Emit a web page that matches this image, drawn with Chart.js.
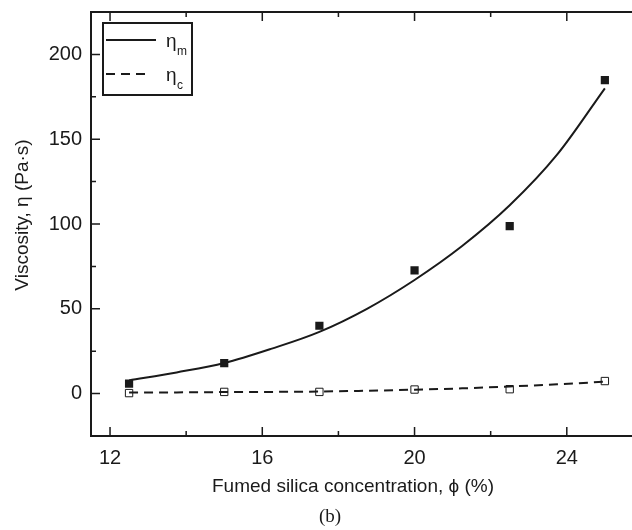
<!DOCTYPE html>
<html lang="en">
<head>
<meta charset="UTF-8" />
<title>Viscosity vs fumed silica</title>
<style>
  html, body { margin: 0; padding: 0; background: #fff; }
  #wrap { width: 632px; height: 530px; }
</style>
</head>
<body>
<div id="wrap"><canvas id="myChart"></canvas></div>
<script src="https://cdn.jsdelivr.net/npm/chart.js"></script>
<script>
// measured points
const conc = [12.5, 15, 17.5, 20, 22.5, 25];
const etaM = [5.9, 18, 40, 72.6, 98.7, 184.8];
const etaC = [0.3, 1.0, 1.0, 2.4, 2.6, 7.4];
// fitted curves
const fitX = [12.5, 13.75, 15, 16.25, 17.5, 18.75, 20, 21.25, 22.5, 23.75, 25];
const fitM = [7.8, 12.5, 18, 26.5, 36.4, 50, 67, 87, 111, 141, 180];
const fitC = [0.6, 0.7, 0.9, 1.0, 1.2, 1.7, 2.3, 3.1, 4.2, 5.5, 7.0];
// axes
const xTicks = [12, 16, 20, 24];
const xMinor = [14, 18, 22, 26];
const yTicks = [0, 50, 100, 150, 200];
const yMinor = [-25, 25, 75, 125, 175, 225];

const sans = '"Liberation Sans", Arial, sans-serif';
const ink = '#1a1a1a';

const pts = (xs, ys) => xs.map((x, i) => ({ x: x, y: ys[i] }));

const frame = {
  id: 'frame',
  afterDraw(chart) {
    const { ctx, chartArea: a, scales } = chart;
    const x = scales.x, y = scales.y;
    const edge = chart.width + 2;
    ctx.save();
    ctx.strokeStyle = ink;
    ctx.lineWidth = 2;
    ctx.beginPath();
    ctx.moveTo(edge, a.top);
    ctx.lineTo(a.left, a.top);
    ctx.lineTo(a.left, a.bottom);
    ctx.lineTo(edge, a.bottom);
    ctx.stroke();

    // inward tick marks
    ctx.lineWidth = 1.5;
    ctx.beginPath();
    const xt = (v, len) => {
      const px = x.getPixelForValue(v);
      ctx.moveTo(px, a.bottom); ctx.lineTo(px, a.bottom - len);
      ctx.moveTo(px, a.top); ctx.lineTo(px, a.top + len);
    };
    const yt = (v, len) => {
      const py = y.getPixelForValue(v);
      ctx.moveTo(a.left, py); ctx.lineTo(a.left + len, py);
    };
    xTicks.forEach(v => xt(v, 9));
    xMinor.forEach(v => xt(v, 5));
    yTicks.forEach(v => yt(v, 9));
    yMinor.forEach(v => yt(v, 5));
    ctx.stroke();

    // axis titles
    ctx.fillStyle = ink;
    ctx.font = '19px ' + sans;
    ctx.textAlign = 'center';
    ctx.textBaseline = 'middle';
    ctx.fillText('Fumed silica concentration, \u03d5 (%)', 353, 487);
    ctx.save();
    ctx.translate(23, 215);
    ctx.rotate(-Math.PI / 2);
    ctx.fillText('Viscosity, \u03b7 (Pa\u00b7s)', 0, 0);
    ctx.restore();
    ctx.font = '19px "Liberation Serif", "Times New Roman", serif';
    ctx.fillText('(b)', 330, 517);

    // legend
    ctx.lineWidth = 2;
    ctx.strokeRect(103, 23, 89, 72);
    ctx.beginPath();
    ctx.moveTo(106, 40); ctx.lineTo(156, 40);
    ctx.stroke();
    ctx.setLineDash([9, 6]);
    ctx.beginPath();
    ctx.moveTo(106, 74); ctx.lineTo(150, 74);
    ctx.stroke();
    ctx.setLineDash([]);
    ctx.textAlign = 'left';
    ctx.textBaseline = 'alphabetic';
    ctx.font = '19px ' + sans;
    ctx.fillText('\u03b7', 166, 47);
    ctx.fillText('\u03b7', 166, 81);
    ctx.font = '12px ' + sans;
    ctx.fillText('m', 177, 55);
    ctx.fillText('c', 177, 89);
    ctx.restore();
  }
};

new Chart(document.getElementById('myChart'), {
  type: 'scatter',
  data: {
    datasets: [
      {
        label: 'fit m',
        data: pts(fitX, fitM),
        showLine: true,
        borderColor: ink,
        borderWidth: 2,
        pointRadius: 0,
        cubicInterpolationMode: 'monotone'
      },
      {
        label: 'fit c',
        data: pts(fitX, fitC),
        showLine: true,
        borderColor: ink,
        borderWidth: 2,
        borderDash: [9, 6],
        pointRadius: 0,
        cubicInterpolationMode: 'monotone'
      },
      {
        label: 'eta m',
        data: pts(conc, etaM),
        pointStyle: 'rect',
        pointRadius: 5.8,
        backgroundColor: ink,
        borderColor: ink,
        borderWidth: 0
      },
      {
        label: 'eta c',
        data: pts(conc, etaC),
        pointStyle: 'rect',
        pointRadius: 5.2,
        backgroundColor: '#fff',
        borderColor: ink,
        borderWidth: 1
      }
    ]
  },
  options: {
    responsive: true,
    maintainAspectRatio: false,
    animation: false,
    layout: { padding: { top: 12, right: 0, left: 0, bottom: 0 } },
    plugins: { legend: { display: false }, tooltip: { enabled: false } },
    scales: {
      x: {
        type: 'linear',
        min: 11.5,
        max: 25.55,
        afterBuildTicks: s => { s.ticks = xTicks.map(v => ({ value: v })); },
        afterFit: s => { s.height = 94; s.paddingLeft = 0; s.paddingRight = 0; },
        grid: { display: false, drawTicks: false },
        border: { display: false },
        ticks: { color: ink, padding: 10, font: { family: sans, size: 20 } }
      },
      y: {
        min: -25,
        max: 225,
        afterBuildTicks: s => { s.ticks = yTicks.map(v => ({ value: v })); },
        afterFit: s => { s.width = 91; s.paddingTop = 0; s.paddingBottom = 0; },
        grid: { display: false, drawTicks: false },
        border: { display: false },
        ticks: { color: ink, padding: 9, font: { family: sans, size: 20 } }
      }
    }
  },
  plugins: [frame]
});
</script>
</body>
</html>
